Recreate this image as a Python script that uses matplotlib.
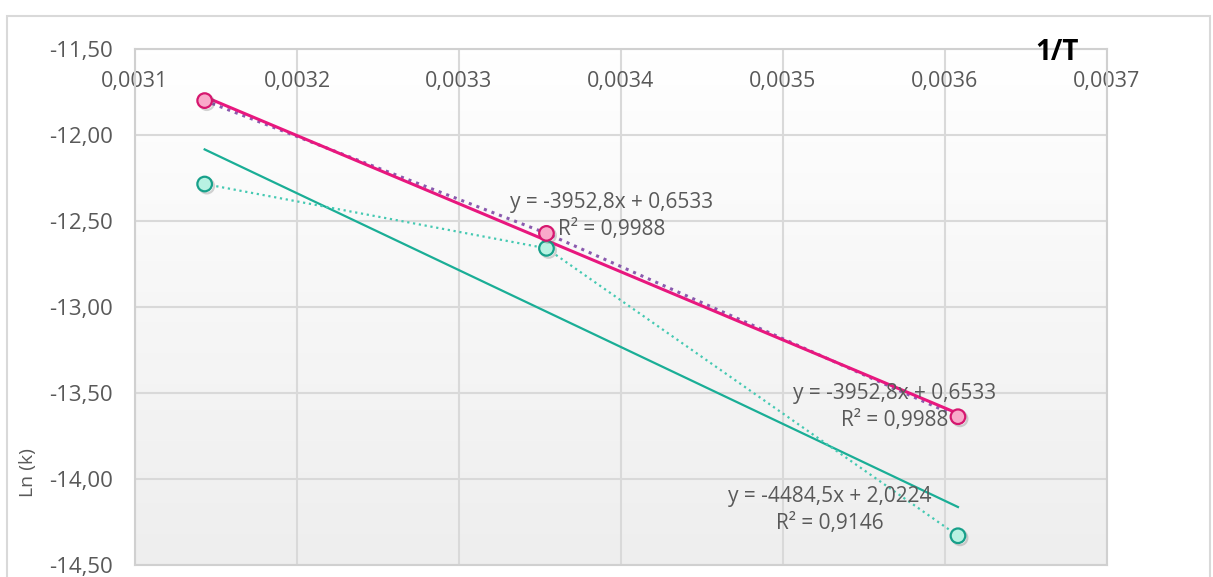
import numpy as np
import matplotlib.pyplot as plt
import matplotlib.patheffects as pe
from matplotlib.patches import Rectangle

plt.rcParams['font.family'] = ['Open Sans', 'DejaVu Sans']

# data
inv_T = [0.003143, 0.003354, 0.003608]
lnk_pink = [-11.80, -12.572, -13.638]
lnk_teal = [-12.285, -12.659, -14.33]

eq_pink = 'y = -3952,8x + 0,6533\nR² = 0,9988'
eq_teal = 'y = -4484,5x + 2,0224\nR² = 0,9146'

x_ticks = [0.0031, 0.0032, 0.0033, 0.0034, 0.0035, 0.0036, 0.0037]
x_labels = ['0,0031', '0,0032', '0,0033', '0,0034', '0,0035', '0,0036', '0,0037']
y_ticks = [-14.5, -14.0, -13.5, -13.0, -12.5, -12.0, -11.5]
y_labels = ['-14,50', '-14,00', '-13,50', '-13,00', '-12,50', '-12,00', '-11,50']

fig = plt.figure(figsize=(12.13, 5.77), dpi=100)
fig.patches.append(Rectangle((7 / 1213, -0.1), 1203 / 1213, 1.1 - 16 / 577,
                             transform=fig.transFigure, fill=False,
                             edgecolor='#D9D9D9', linewidth=1.5))
ax = fig.add_axes([135 / 1213, 1 - 565 / 577, 972 / 1213, 516 / 577])

# plot area gradient
grad = np.linspace(0, 1, 100).reshape(-1, 1)
ax.imshow(grad, extent=[0, 1, 0, 1], transform=ax.transAxes, aspect='auto',
          cmap=plt.matplotlib.colors.LinearSegmentedColormap.from_list('g', ['#EEEEEE', '#FFFFFF']),
          origin='lower', zorder=0)

shadow = [pe.SimpleLineShadow(offset=(1.5, -1.5), alpha=0.25, shadow_color='#555555'), pe.Normal()]

# trendlines
xs = np.array([inv_T[0], inv_T[-1]])
pk = np.polyfit(inv_T, lnk_pink, 1)
tk = np.polyfit(inv_T, lnk_teal, 1)
ax.plot(xs, np.polyval(tk, xs), color='#1AAE96', lw=1.6, zorder=3)
ax.plot(inv_T, lnk_teal, linestyle=':', color='#45C9B2', lw=1.6, zorder=3)
ax.plot(inv_T, lnk_pink, linestyle=':', color='#8A5AAE', lw=2.2, zorder=3)
ax.plot(xs, np.polyval(pk, xs), color='#E8177E', lw=2.2, zorder=4)

ax.plot(inv_T, lnk_teal, 'o', ms=10.5, mfc='#B8F2E2', mec='#17A08A', mew=1.6,
        zorder=5, path_effects=shadow)
ax.plot(inv_T, lnk_pink, 'o', ms=10.5, mfc='#F9A9CA', mec='#D6176F', mew=1.6,
        zorder=6, path_effects=shadow)

txt = dict(ha='center', va='center', fontsize=15, color='#595959',
           linespacing=1.4, zorder=7)
ax.text(0.0033944, -12.471, eq_pink, **txt)
ax.text(0.0035691, -13.581, eq_pink, **txt)
ax.text(0.003529, -14.18, eq_teal, **txt)

ax.set_xlim(0.0031, 0.0037)
ax.set_ylim(-14.5, -11.5)
ax.set_xticks(x_ticks)
ax.set_xticklabels(x_labels)
ax.set_yticks(y_ticks)
ax.set_yticklabels(y_labels)
ax.grid(True, color='#D9D9D9', lw=1.5, zorder=1)
ax.set_axisbelow(True)
ax.tick_params(axis='x', top=True, labeltop=True, bottom=False, labelbottom=False,
               length=0, pad=-31, labelsize=15.5, labelcolor='#595959')
ax.tick_params(axis='y', length=0, pad=16, labelsize=16, labelcolor='#595959')
for s in ['left', 'top', 'right', 'bottom']:
    ax.spines[s].set_color('#D0D0D0')
    ax.spines[s].set_linewidth(1.5)

ax.set_ylabel('Ln (k)', fontsize=14, color='#595959')
ax.yaxis.set_label_coords(-0.101, 0.18)

fig.text(1057 / 1213, 1 - 52 / 577, '1/T', fontsize=20, fontweight='bold',
         color='black', ha='center', va='center')

fig.savefig('out.png', dpi=100)
